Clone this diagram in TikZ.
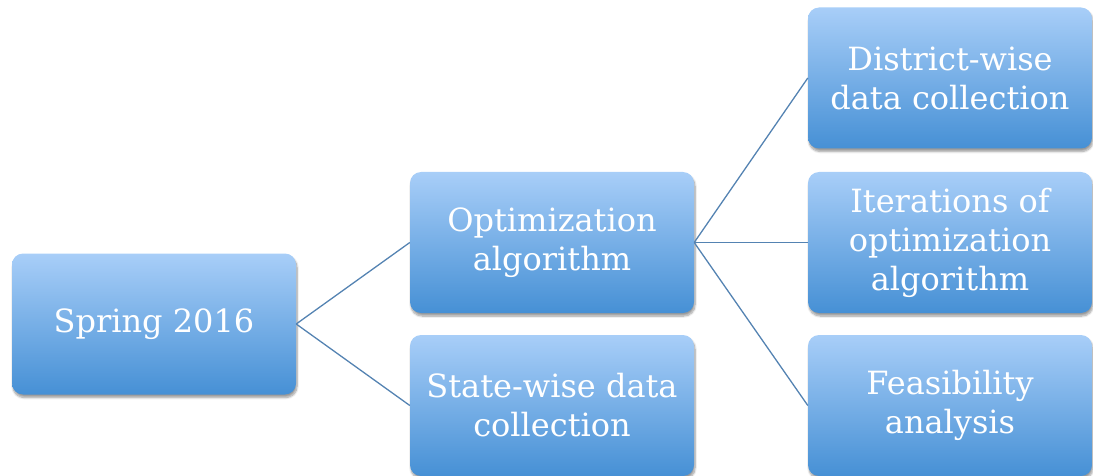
\documentclass[tikz,border=0pt]{standalone}
\usepackage{fontspec}
\setmainfont{DejaVu Serif}
\usetikzlibrary{shadows.blur}
\definecolor{boxtop}{HTML}{A8CEF8}
\definecolor{boxbot}{HTML}{4690D5}
\definecolor{linkcol}{HTML}{5483B2}
\tikzset{
  box/.style={rounded corners=11pt, top color=boxtop, bottom color=boxbot,
    draw=none, minimum width=284pt, minimum height=141pt, inner sep=0pt,
    text=white, align=center, font=\fontsize{32}{39}\selectfont,
    blur shadow={shadow xshift=1pt, shadow yshift=-3pt, shadow blur steps=8, shadow opacity=40}},
  link/.style={draw=linkcol, line width=1.3pt}
}
\begin{document}
\begin{tikzpicture}[x=1pt,y=-1pt]
  \useasboundingbox (0,0) rectangle (1093,476);
  \node[box] (spring)   at (154,324)   {Spring 2016};
  \node[box] (opt)      at (552,242.5) {Optimization\\algorithm};
  \node[box] (state)    at (552,405.5) {State-wise data\\collection};
  \node[box] (district) at (950,78)    {District-wise\\data collection};
  \node[box] (iter)     at (950,242.5) {Iterations of\\optimization\\algorithm};
  \node[box] (feas)     at (950,405.5) {Feasibility\\analysis};
  \draw[link] (spring.east) -- (opt.west);
  \draw[link] (spring.east) -- (state.west);
  \draw[link] (opt.east) -- (district.west);
  \draw[link] (opt.east) -- (iter.west);
  \draw[link] (opt.east) -- (feas.west);
\end{tikzpicture}
\end{document}
